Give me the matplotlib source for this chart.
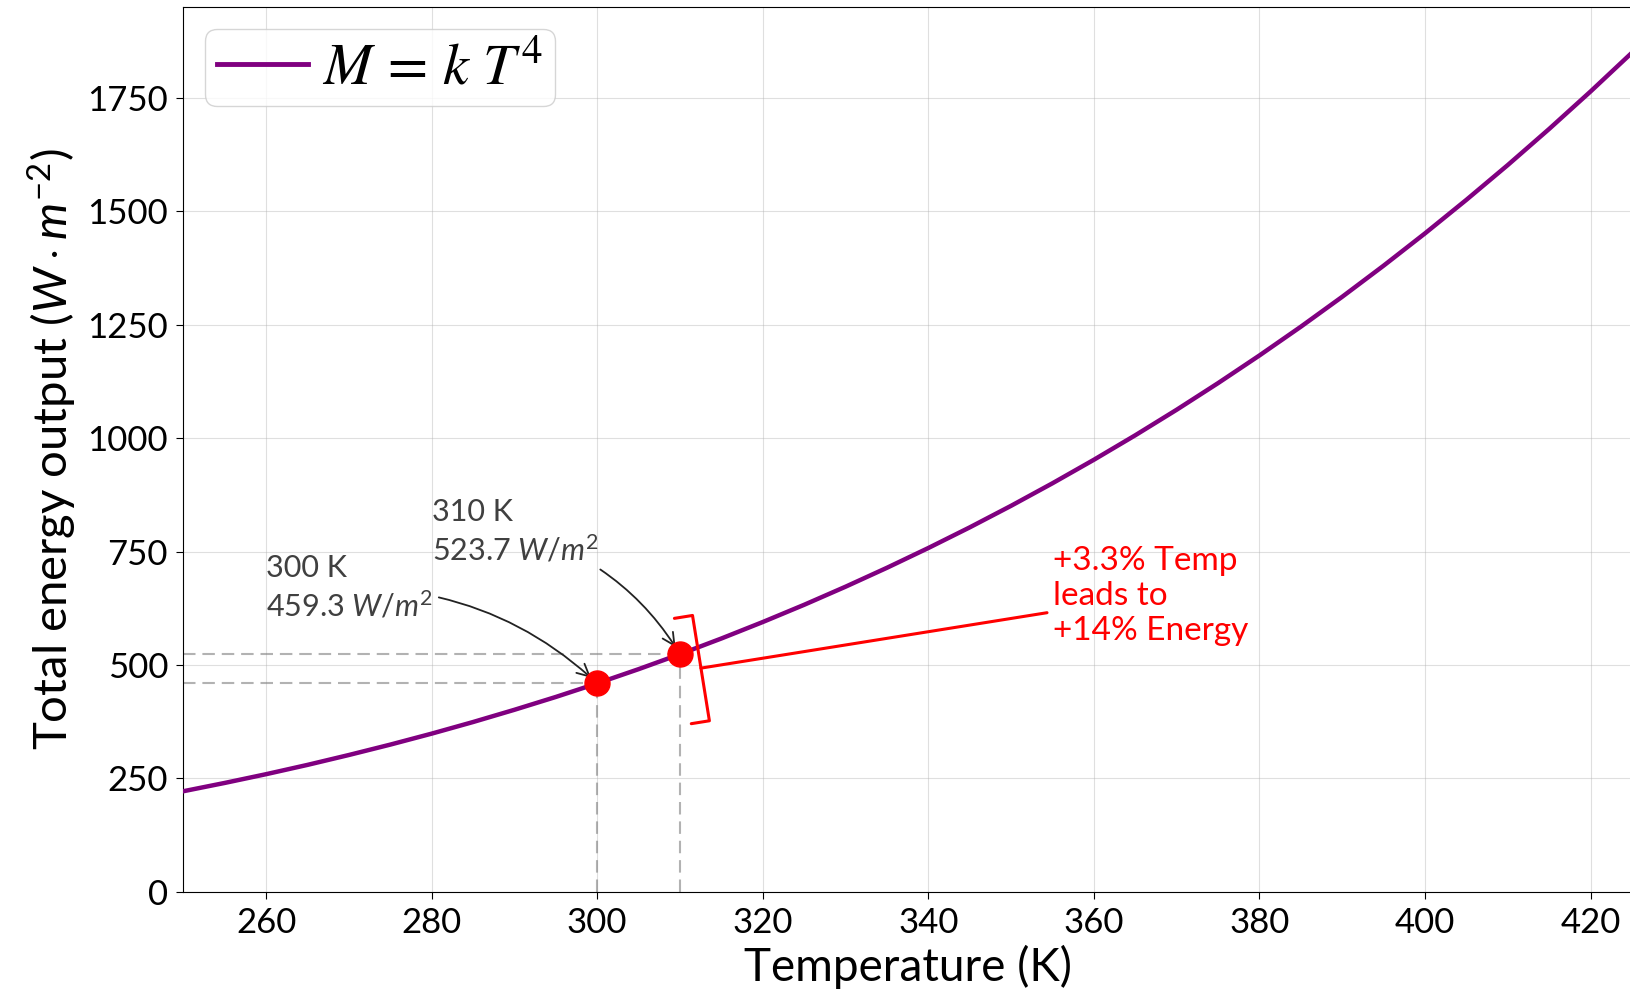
import numpy as np
import matplotlib
matplotlib.use("Agg")
import matplotlib.pyplot as plt

# curve values (every 5 K)
temps = [250, 255, 260, 265, 270, 275, 280, 285, 290, 295, 300, 305, 310, 315, 320,
         325, 330, 335, 340, 345, 350, 355, 360, 365, 370, 375, 380, 385, 390, 395,
         400, 405, 410, 415, 420, 425]
energy = [221.5, 239.8, 259.1, 279.6, 301.4, 324.3, 348.5, 374.1, 401.1, 429.4, 459.3,
          490.7, 523.7, 558.3, 594.6, 632.6, 672.5, 714.2, 757.8, 803.3, 850.9, 900.6,
          952.4, 1006.4, 1062.7, 1121.4, 1182.4, 1245.8, 1311.8, 1380.4, 1451.6, 1525.6,
          1602.3, 1681.9, 1764.5, 1850.0]

marked_temps = [300, 310]
marked_energy = [459.3, 523.7]
point_labels = ["300 K\n459.3 $W/m^2$", "310 K\n523.7 $W/m^2$"]
label_pos = [(260, 606), (280, 731)]
arrow_rad = [-0.2, -0.2]

note_text = "+3.3% Temp\nleads to\n+14% Energy"
note_xy = (312.2, 492)
note_pos = (355, 555)

plt.rcParams["font.family"] = ["Lato", "DejaVu Sans"]
plt.rcParams["mathtext.fontset"] = "custom"
plt.rcParams["mathtext.rm"] = "Lato"
plt.rcParams["mathtext.it"] = "Lato:italic"
plt.rcParams["mathtext.bf"] = "Lato:bold"

fig = plt.figure(figsize=(16.31, 9.9), dpi=100)
ax = fig.add_axes([183.3 / 1631, 98.3 / 990, (1632 - 183.3) / 1631, (891.7 - 7.3) / 990])

ax.plot(temps, energy, color="purple", lw=3.2, label=r"$M\,=\,k\ T^4$", zorder=3)

for t, e in zip(marked_temps, marked_energy):
    ax.plot([250, t], [e, e], color="gray", alpha=0.6, lw=1.5, ls=(0, (6, 3.3)), zorder=2)
    ax.plot([t, t], [0, e], color="gray", alpha=0.6, lw=1.5, ls=(0, (6, 3.3)), zorder=2)
ax.plot(marked_temps, marked_energy, "o", color="red", markersize=18, zorder=5)

for t, e, txt, pos, rad in zip(marked_temps, marked_energy, point_labels, label_pos, arrow_rad):
    ax.annotate(txt, xy=(t, e), xytext=pos, fontsize=22, color="#404040",
                ha="left", va="baseline", linespacing=1.3,
                arrowprops=dict(arrowstyle="->", color="#222222", lw=1.3,
                                connectionstyle=f"arc3,rad={rad}", shrinkB=6,
                                mutation_scale=22))

ax.annotate(note_text, xy=note_xy, xytext=note_pos, fontsize=24, color="red",
            ha="left", va="baseline", linespacing=1.2,
            arrowprops=dict(arrowstyle="-[, widthB=1.6, lengthB=0.55",
                            color="red", lw=2.2, mutation_scale=24))

ax.set_xlim(250, 425)
ax.set_ylim(0, 1950)
ax.set_xlabel("Temperature (K)", fontsize=33, labelpad=4)
ax.set_ylabel(r"Total energy output $(W \cdot m^{-2})$", fontsize=34, labelpad=6)
ax.tick_params(labelsize=25, length=5, pad=6)
ax.grid(alpha=0.4)

leg = ax.legend(loc="upper left", fontsize=42, borderpad=0.2, borderaxespad=0.38,
                handlelength=1.55, handletextpad=0.25)
leg.get_texts()[0].set_math_fontfamily("stix")
for h in leg.get_lines():
    h.set_linewidth(3.5)

fig.savefig("out.png", dpi=100)
